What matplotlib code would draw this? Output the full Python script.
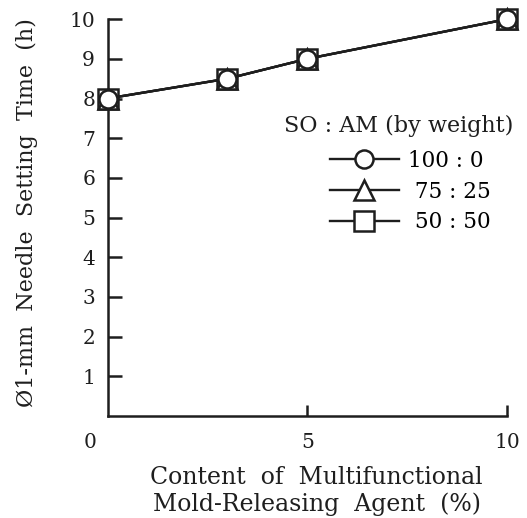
import matplotlib
matplotlib.use("Agg")
import matplotlib.pyplot as plt
import matplotlib.transforms as mtransforms

plt.rcParams["font.family"] = ["DejaVu Serif"]

content = [0, 3, 5, 10]                      # % mold-releasing agent
series_labels = ["100 : 0", " 75 : 25", " 50 : 50"]
time_100_0 = [8.0, 8.5, 9.0, 10.0]
time_75_25 = [8.0, 8.5, 9.0, 10.0]
time_50_50 = [8.0, 8.5, 9.0, 10.0]
xticks = [0, 5, 10]
yticks = [1, 2, 3, 4, 5, 6, 7, 8, 9, 10]

INK = "#1e1e1e"
fig = plt.figure(figsize=(5.27, 5.18), dpi=100)
ax = fig.add_axes([0.204, 0.197, 0.758, 0.766])

kw = dict(color=INK, lw=1.7, mfc="white", mec=INK, mew=1.8, clip_on=False)
ax.plot(content, time_50_50, "-s", ms=15, label=series_labels[2], zorder=3, **kw)
ax.plot(content, time_75_25, "-^", ms=15, label=series_labels[1], zorder=4, **kw)
ax.plot(content, time_100_0, "-o", ms=13, label=series_labels[0], zorder=5, **kw)

ax.set_xlim(0, 10); ax.set_ylim(0, 10)
for s in ("top", "right"):
    ax.spines[s].set_visible(False)
for s in ("left", "bottom"):
    ax.spines[s].set_linewidth(1.8); ax.spines[s].set_color(INK)
ax.set_xticks(xticks); ax.set_yticks(yticks)
ax.tick_params(axis="y", direction="in", length=10, width=1.8, pad=9, labelsize=14.5, colors=INK)
ax.tick_params(axis="x", direction="in", length=8, width=1.8, pad=12, labelsize=14.5, colors=INK)
# the "0" sits left of the corner
lab0 = ax.get_xticklabels()[0]
lab0.set_transform(lab0.get_transform() + mtransforms.ScaledTranslation(-17 / 100, 0, fig.dpi_scale_trans))
ax.xaxis.get_major_ticks()[0].tick1line.set_visible(False)

# legend: title as its own text, entries below it
fig.text(399 / 527, 1 - 126 / 518, "SO : AM (by weight)", ha="center", va="center",
         fontsize=16, color=INK)
h, l = ax.get_legend_handles_labels()
leg = fig.legend(h[::-1], l[::-1], loc="upper left", bbox_to_anchor=(330 / 527, 1 - 150 / 518),
                 frameon=False, fontsize=15.5, markerscale=1.0, handlelength=3.2,
                 handletextpad=0.42, labelspacing=0.4, borderpad=0, borderaxespad=0)

fig.text(0.051, 0.59, "Ø1-mm  Needle  Setting  Time  (h)", rotation=90, ha="center", va="center",
         fontsize=16, color=INK)
fig.text(0.601, 0.052, "Content  of  Multifunctional\nMold-Releasing  Agent  (%)", ha="center",
         va="center", fontsize=17, color=INK, linespacing=1.15)

fig.savefig("out.png", dpi=100)
